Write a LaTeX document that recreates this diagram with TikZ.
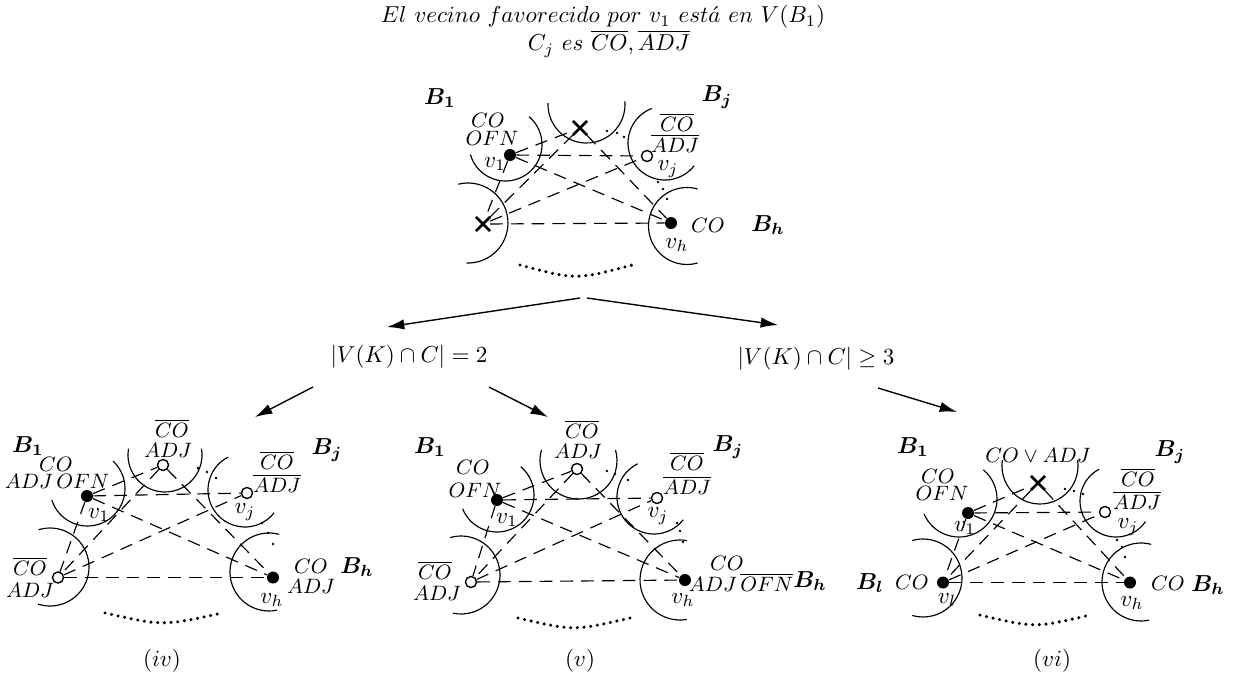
\documentclass[tikz,border=0pt]{standalone}
\usepackage{amsmath}
\usetikzlibrary{shapes.misc,arrows.meta}
\newcommand\blockarc[5]{\draw[blk] (#1,#2) ++({-(#4)}:#3) arc[start angle={-(#4)}, end angle={-(#5)}, radius=#3];}
\newcommand\sdot[2]{\fill (#1,#2) circle[radius=1.4];}
\begin{document}
\begin{tikzpicture}[x=0.01522cm,y=-0.01522cm,
  fv/.style={circle,fill=black,inner sep=0pt,minimum size=5.2pt},
  ov/.style={circle,draw,fill=white,inner sep=0pt,minimum size=4.8pt,line width=0.6pt},
  xv/.style={cross out,draw,inner sep=0pt,minimum size=5pt,line width=1.1pt},
  ed/.style={dash pattern=on 5.5pt off 3.5pt,line width=0.5pt},
  blk/.style={line width=0.5pt},
  lbl/.style={inner sep=0pt},
  attr/.style={inner sep=0pt,font=\small},
  dt/.style={line width=1.5pt,dash pattern=on 0pt off 2.9pt,line cap=round},
  arr/.style={-{Latex[length=7.5pt,width=4.5pt]},line width=0.6pt}]
\path[use as bounding box] (0,0) rectangle (1235,681);

% titles
\node[lbl] (title1) at (603,17) {$El\ vecino\ favorecido\ por\ v_1\ est\acute{a}\ en\ V(B_1)$};
\node[lbl] (title2) at (609,44) {$C_j\ es\ \overline{CO},\overline{ADJ}$};

% ===== top diagram =====
\blockarc{505.5}{144.5}{36.5}{196}{410}
\blockarc{586.5}{104.5}{38.5}{178}{365}
\blockarc{665}{143}{37}{111}{322}
\blockarc{687}{226}{38.5}{74}{286}
\blockarc{468}{223}{40}{104}{-92}
\node[fv] (T1) at (510,155) {};
\node[xv] (Tt) at (580,128) {};
\node[ov] (Tj) at (647,156) {};
\node[xv] (Tl) at (483,224) {};
\node[fv] (Th) at (671,223) {};
\node[lbl] (TB1) at (440,98) {$\boldsymbol{B_1}$};
\node[lbl] (TBj) at (717,97) {$\boldsymbol{B_j}$};
\node[lbl] (TBh) at (768,225) {$\boldsymbol{B_h}$};
\node[attr] (Ta1) at (488,120.5) {$CO$};
\node[attr] (Ta2) at (492,138) {$OFN$};
\node[lbl] (Tn1) at (495,164) {$v_1$};
\node[attr] (Ta3) at (677,122) {$\overline{CO}$};
\node[attr] (Ta4) at (675,143) {$\overline{ADJ}$};
\node[lbl] (Tnj) at (668,169) {$v_j$};
\node[attr] (Ta5) at (708,225) {$CO$};
\node[lbl] (Tnh) at (677,245) {$v_h$};
\sdot{607}{131}\sdot{617}{133}\sdot{624}{137}
\sdot{658}{182}\sdot{663}{189}\sdot{667}{199}
\draw[dt] (520,265) .. controls (576,280) .. (632,265);

% ===== branch arrows =====
\coordinate (f1) at (580,298);
\coordinate (f2) at (587,298);
\coordinate (tip1) at (387,327);
\coordinate (tip2) at (778,325);
\draw[arr] (f1) -- (tip1);
\draw[arr] (f2) -- (tip2);
\node[lbl] (L2) at (409,357) {$|V(K)\cap C|=2$};
\node[lbl] (L3) at (816,359) {$|V(K)\cap C|\geq 3$};
\coordinate (g1) at (313,387);
\coordinate (h1) at (255,417);
\coordinate (g2) at (489,387);
\coordinate (h2) at (548,417);
\coordinate (g3) at (878,388);
\coordinate (h3) at (957,412);
\draw[arr] (g1) -- (h1);
\draw[arr] (g2) -- (h2);
\draw[arr] (g3) -- (h3);

% ===== (iv) =====
\blockarc{87.5}{488.5}{37.5}{198}{407}
\blockarc{165}{455}{37}{170}{370}
\blockarc{245}{490}{37}{117}{322}
\blockarc{50}{567}{39}{107}{-108}
\blockarc{269}{572}{39}{75}{282}
\node[fv] (A1) at (87,496) {};
\node[ov] (At) at (163,465) {};
\node[ov] (Aj) at (247,493) {};
\node[ov] (Al) at (58,577.5) {};
\node[fv] (Ah) at (273,577.5) {};
\node[lbl] (AB1) at (28,446) {$\boldsymbol{B_1}$};
\node[lbl] (ABj) at (327,450) {$\boldsymbol{B_j}$};
\node[lbl] (ABh) at (357,567) {$\boldsymbol{B_h}$};
\node[attr] (Aa1) at (172,428) {$\overline{CO}$};
\node[attr] (Aa2) at (168,450) {$ADJ$};
\node[attr] (Aa3) at (56,464) {$CO$};
\node[attr] (Aa4) at (57,481) {$ADJ\,OFN$};
\node[lbl] (An1) at (99,515) {$v_1$};
\node[attr] (Aa5) at (277,460) {$\overline{CO}$};
\node[attr] (Aa6) at (277,483) {$\overline{ADJ}$};
\node[lbl] (Anj) at (245,512) {$v_j$};
\node[attr] (Aa7) at (30,566) {$\overline{CO}$};
\node[attr] (Aa8) at (30,590) {$ADJ$};
\node[attr] (Aa9) at (311,566) {$CO$};
\node[attr] (Aa10) at (311,586) {$ADJ$};
\node[lbl] (Anh) at (272,600) {$v_h$};
\sdot{198}{468}\sdot{207}{472}\sdot{216}{478}
\sdot{262}{523}\sdot{268}{533}\sdot{273}{544}
\draw[dt] (105,613) .. controls (163,626) .. (222,613);
\node[lbl] (capA) at (162,661) {$(iv)$};

% ===== (v) =====
\blockarc{497}{495}{37}{202}{410}
\blockarc{578.5}{460.5}{38.5}{164}{376}
\blockarc{654}{497}{37}{116}{322}
\blockarc{461}{575}{39}{106}{-102}
\blockarc{680}{580}{40}{80}{280}
\node[fv] (B1) at (497,500) {};
\node[ov] (Bt) at (577,469) {};
\node[ov] (Bj) at (657,498) {};
\node[ov] (Bl) at (471,582) {};
\node[fv] (Bh) at (685,580) {};
\node[lbl] (BB1) at (430,447) {$\boldsymbol{B_1}$};
\node[lbl] (BBj) at (728,447) {$\boldsymbol{B_j}$};
\node[lbl] (BBh) at (810,581) {$\boldsymbol{B_h}$};
\node[attr] (Ba1) at (582,429) {$\overline{CO}$};
\node[attr] (Ba2) at (578,451) {$ADJ$};
\node[attr] (Ba3) at (473,467) {$CO$};
\node[attr] (Ba4) at (475,490) {$OFN$};
\node[lbl] (Bn1) at (507,520) {$v_1$};
\node[attr] (Ba5) at (687,461) {$\overline{CO}$};
\node[attr] (Ba6) at (687,485) {$\overline{ADJ}$};
\node[lbl] (Bnj) at (658,516) {$v_j$};
\node[attr] (Ba7) at (435,570) {$\overline{CO}$};
\node[attr] (Ba8) at (437,593) {$ADJ$};
\node[attr] (Ba9) at (727,563) {$CO$};
\node[attr] (Ba10) at (741,582) {$ADJ\,\overline{OFN}$};
\node[lbl] (Bnh) at (683,600) {$v_h$};
\sdot{607}{471}\sdot{615}{474}\sdot{628}{480}
\sdot{677}{523}\sdot{680}{531}\sdot{683}{542}
\draw[dt] (518,618) .. controls (574,631) .. (630,618);
\node[lbl] (capB) at (580,661) {$(v)$};

% ===== (vi) =====
\blockarc{959}{499}{38}{203}{410}
\blockarc{1040}{466}{38}{171}{369}
\blockarc{1116}{501}{36}{118}{325}
\blockarc{923}{578}{39}{106}{-106}
\blockarc{1141}{582}{39}{75}{282}
\node[fv] (C1) at (968,513) {};
\node[xv] (Ct) at (1038,483) {};
\node[ov] (Cj) at (1105,512) {};
\node[fv] (Cl) at (943,582.5) {};
\node[fv] (Ch) at (1130,582.5) {};
\node[lbl] (CB1) at (913,447) {$\boldsymbol{B_1}$};
\node[lbl] (CBj) at (1170,452) {$\boldsymbol{B_j}$};
\node[lbl] (CBl) at (870,583) {$\boldsymbol{B_l}$};
\node[lbl] (CBh) at (1208,585) {$\boldsymbol{B_h}$};
\node[attr] (Ca1) at (1038,455) {$CO\vee ADJ$};
\node[attr] (Ca2) at (938,476) {$CO$};
\node[attr] (Ca3) at (942,493) {$OFN$};
\node[lbl] (Cn1) at (965,528) {$v_1$};
\node[attr] (Ca4) at (1138,477) {$\overline{CO}$};
\node[attr] (Ca5) at (1137,500) {$\overline{ADJ}$};
\node[lbl] (Cnj) at (1128,527) {$v_j$};
\node[attr] (Ca6) at (912,582) {$CO$};
\node[lbl] (Cnl) at (947,600) {$v_l$};
\node[attr] (Ca7) at (1168,583) {$CO$};
\node[lbl] (Cnh) at (1132,603) {$v_h$};
\sdot{1065}{489}\sdot{1074}{491}\sdot{1083}{494}
\sdot{1117}{540}\sdot{1122}{547}\sdot{1125}{557}
\draw[dt] (980,615) .. controls (1035,628) .. (1090,615);
\node[lbl] (capC) at (1052,661) {$(vi)$};

% ===== edges =====
\foreach \p in {T,A,B,C}{
  \draw[ed] (\p1) -- (\p t);
  \draw[ed] (\p1) -- (\p j);
  \draw[ed] (\p1) -- (\p h);
  \draw[ed] (\p1) -- (\p l);
  \draw[ed] (\p t) -- (\p l);
  \draw[ed] (\p t) -- (\p h);
  \draw[ed] (\p l) -- (\p j);
  \draw[ed] (\p l) -- (\p h);
}
\end{tikzpicture}
\end{document}
